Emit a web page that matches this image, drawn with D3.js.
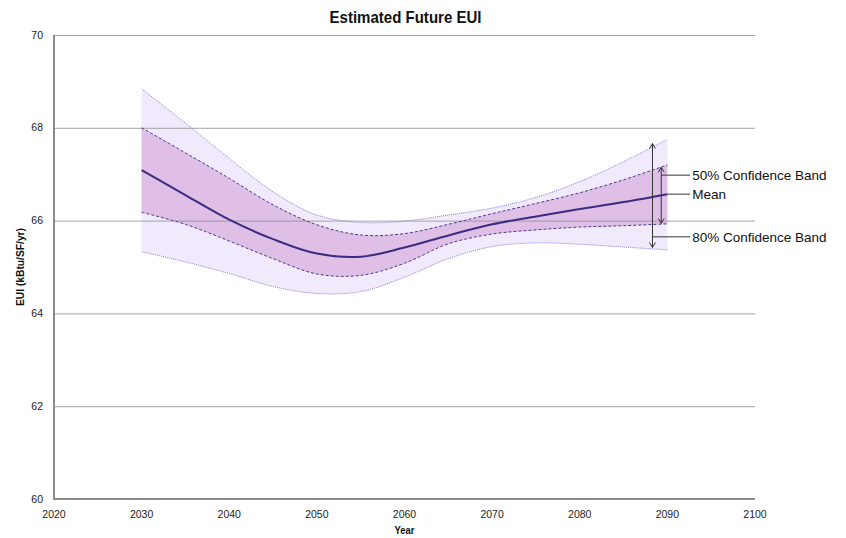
<!DOCTYPE html>
<html>
<head>
<meta charset="utf-8">
<script src="https://cdn.jsdelivr.net/npm/d3@7"></script>
<style>
  body { margin: 0; background: #fff; }
  svg { display: block; }
</style>
</head>
<body>
<svg id="chart" width="846" height="538"></svg>
<script>
// ---- data ----
const years = [2030, 2035, 2040, 2045, 2050, 2055, 2060, 2065, 2070, 2075, 2080, 2085, 2090];
const meanEUI = [67.09, 66.55, 66.02, 65.60, 65.29, 65.22, 65.42, 65.68, 65.92, 66.09, 66.25, 66.40, 66.57];
const upper50 = [68.00, 67.46, 66.91, 66.34, 65.91, 65.69, 65.72, 65.92, 66.15, 66.37, 66.60, 66.88, 67.20];
const lower50 = [66.18, 65.92, 65.56, 65.18, 64.85, 64.82, 65.08, 65.50, 65.71, 65.80, 65.86, 65.89, 65.93];
const upper80 = [68.84, 68.10, 67.34, 66.62, 66.12, 65.96, 65.99, 66.12, 66.27, 66.50, 66.84, 67.27, 67.75];
const lower80 = [65.33, 65.11, 64.86, 64.58, 64.43, 64.47, 64.78, 65.18, 65.44, 65.52, 65.49, 65.43, 65.37];
const xTicks = [2020, 2030, 2040, 2050, 2060, 2070, 2080, 2090, 2100];
const yTicks = [60, 62, 64, 66, 68, 70];
const title = "Estimated Future EUI";
const xTitle = "Year";
const yTitle = "EUI (kBtu/SF/yr)";
// annotation: label, arrow year, arrow top/bottom values, leader value
const bandNotes = [
  { label: "80% Confidence Band", x: 2088.3, top: 67.66, bottom: 65.42, at: 65.65 },
  { label: "50% Confidence Band", x: 2089.3, top: 67.15, bottom: 65.94, at: 66.98 }
];
const meanNote = { label: "Mean", x: 2090, at: 66.57 };
const labelYear = 2092.6;

// ---- layout ----
const svg = d3.select("#chart");
const x = d3.scaleLinear().domain([2020, 2100]).range([54, 755]);
const y = d3.scaleLinear().domain([60, 70]).range([499, 35]);

const rows = years.map((yr, i) => ({
  yr, m: meanEUI[i], u50: upper50[i], l50: lower50[i], u80: upper80[i], l80: lower80[i]
}));
const curve = d3.curveCatmullRom.alpha(0.5);

// bands
svg.append("path").datum(rows)
  .attr("d", d3.area().curve(curve).x(d => x(d.yr)).y0(d => y(d.l80)).y1(d => y(d.u80)))
  .attr("fill", "#f1eafc");
svg.append("path").datum(rows)
  .attr("d", d3.area().curve(curve).x(d => x(d.yr)).y0(d => y(d.l50)).y1(d => y(d.u50)))
  .attr("fill", "#dfbfe6");

// gridlines
svg.append("g").selectAll("line").data(yTicks.filter(t => t > 60)).join("line")
  .attr("x1", x(2020)).attr("x2", x(2100))
  .attr("y1", d => y(d) + 0.5).attr("y2", d => y(d) + 0.5)
  .attr("stroke", "#8f8f8f").attr("stroke-opacity", 0.8).attr("stroke-width", 1);

// band edges
const edge = key => d3.line().curve(curve).x(d => x(d.yr)).y(d => y(d[key]));
["u80", "l80"].forEach(k => {
  svg.append("path").datum(rows).attr("d", edge(k))
    .attr("fill", "none").attr("stroke", "#8c80d0").attr("stroke-width", 1)
    .attr("stroke-dasharray", "1,1");
});
["u50", "l50"].forEach(k => {
  svg.append("path").datum(rows).attr("d", edge(k))
    .attr("fill", "none").attr("stroke", "#4a3a92").attr("stroke-width", 1)
    .attr("stroke-dasharray", "3,2");
});
// mean line
svg.append("path").datum(rows).attr("d", edge("m"))
  .attr("fill", "none").attr("stroke", "#3b2c82").attr("stroke-width", 2);

// axis lines
svg.append("line").attr("x1", x(2020)).attr("x2", x(2020)).attr("y1", y(70)).attr("y2", y(60))
  .attr("stroke", "#8a8a8a").attr("stroke-width", 2);
svg.append("line").attr("x1", x(2020) - 1).attr("x2", x(2100)).attr("y1", y(60)).attr("y2", y(60))
  .attr("stroke", "#8a8a8a").attr("stroke-width", 2);

const tickFont = "Liberation Sans, Arial, sans-serif";
// y tick labels
svg.append("g").selectAll("text").data(yTicks).join("text")
  .attr("x", 43).attr("y", d => y(d)).attr("dy", "0.35em")
  .attr("text-anchor", "end").attr("font-size", 10.5).attr("fill", "#222")
  .attr("font-family", tickFont)
  .text(d => d);

// x tick labels
svg.append("g").selectAll("text").data(xTicks).join("text")
  .attr("x", d => x(d)).attr("y", 518)
  .attr("text-anchor", "middle").attr("font-size", 10.5).attr("fill", "#222")
  .attr("font-family", tickFont)
  .text(d => d);

// titles
svg.append("text")
  .attr("x", (x(2020) + x(2100)) / 2 + 1).attr("y", 23)
  .attr("text-anchor", "middle").attr("font-size", 17).attr("font-weight", "bold").attr("fill", "#111")
  .attr("font-family", tickFont)
  .attr("textLength", 152).attr("lengthAdjust", "spacingAndGlyphs")
  .text(title);
svg.append("text")
  .attr("x", (x(2020) + x(2100)) / 2).attr("y", 534)
  .attr("text-anchor", "middle").attr("font-size", 10).attr("font-weight", "bold").attr("fill", "#111")
  .attr("font-family", tickFont)
  .attr("textLength", 20).attr("lengthAdjust", "spacingAndGlyphs")
  .text(xTitle);
svg.append("text")
  .attr("transform", `translate(24,${(y(60) + y(70)) / 2}) rotate(-90)`)
  .attr("text-anchor", "middle").attr("font-size", 10).attr("font-weight", "bold").attr("fill", "#111")
  .attr("font-family", tickFont)
  .attr("textLength", 78).attr("lengthAdjust", "spacingAndGlyphs")
  .text(yTitle);

// arrow marker (open V)
const defs = svg.append("defs");
defs.append("marker").attr("id", "vhead").attr("viewBox", "-6 -4 7 8")
  .attr("refX", 0).attr("refY", 0).attr("markerWidth", 7).attr("markerHeight", 8)
  .attr("markerUnits", "userSpaceOnUse").attr("orient", "auto-start-reverse")
  .append("path").attr("d", "M-5,-3 L0,0 L-5,3").attr("fill", "none")
  .attr("stroke", "#333").attr("stroke-width", 1);

const annoFont = "Liberation Sans, Arial, Helvetica, sans-serif";
bandNotes.forEach(n => {
  svg.append("path")
    .attr("d", `M${x(n.x)},${y(n.bottom)} L${x(n.x)},${y(n.top)}`)
    .attr("stroke", "#333").attr("stroke-width", 1).attr("fill", "none")
    .attr("marker-start", "url(#vhead)").attr("marker-end", "url(#vhead)");
  svg.append("line")
    .attr("x1", x(n.x)).attr("x2", x(labelYear))
    .attr("y1", y(n.at)).attr("y2", y(n.at))
    .attr("stroke", "#333").attr("stroke-width", 1);
  svg.append("text").attr("x", x(labelYear) + 2).attr("y", y(n.at)).attr("dy", "0.35em")
    .attr("font-size", 13.5).attr("fill", "#111").attr("font-family", annoFont).text(n.label);
});

svg.append("line")
  .attr("x1", x(meanNote.x)).attr("x2", x(labelYear))
  .attr("y1", y(meanNote.at)).attr("y2", y(meanNote.at))
  .attr("stroke", "#333").attr("stroke-width", 1);
svg.append("text").attr("x", x(labelYear) + 2).attr("y", y(meanNote.at)).attr("dy", "0.35em")
  .attr("font-size", 13.5).attr("fill", "#111").attr("font-family", annoFont).text(meanNote.label);
</script>
</body>
</html>
